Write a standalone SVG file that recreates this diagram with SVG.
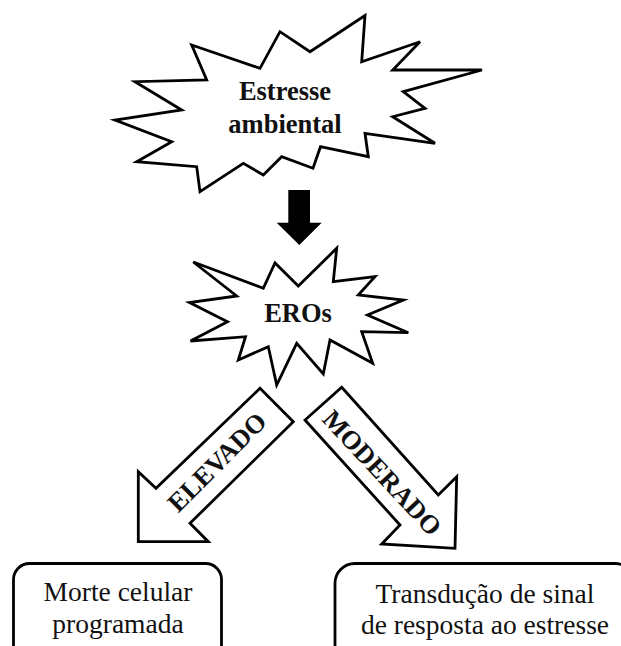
<svg xmlns="http://www.w3.org/2000/svg" width="621" height="646" viewBox="0 0 621 646">
<style>
.shape{fill:#fff;stroke:#000;stroke-width:2.8;stroke-linejoin:miter}
.bold{font-family:"Liberation Serif","Times New Roman",serif;font-weight:bold;font-size:26.5px;fill:#111;text-anchor:middle}
.reg{font-family:"Liberation Serif","Times New Roman",serif;font-size:27.5px;fill:#111;text-anchor:middle}
</style>
<rect width="621" height="646" fill="#fff"/>
<g id="estresse">
<polygon class="shape" points="191.7,45 260,68.3 280,31.7 310,51.7 365,15.5 361.7,61.7 420,41.7 392.7,70 482,70 403.3,91.7 425,108.3 392.7,116.7 435,143.3 365,133.3 368.3,156.7 320.5,146.7 313,168.3 281.7,156.7 263.3,175 243.3,163.3 200,191.7 196.7,166.7 136.7,161.7 171.7,141.7 115,120 181.7,110 135,81.7 206.7,80"/>
<text class="bold" x="285" y="100">Estresse</text>
<text class="bold" x="285" y="132.7">ambiental</text>
</g>
<g id="eros">
<polygon class="shape" points="193.3,262 263.3,288.3 275,263 298.3,286 336.7,248.3 333.3,281.7 375,276.7 358.3,295 403.3,300 367.5,315 408.3,332.7 361.7,331.7 372.7,363.3 330,340 323.3,374 296.7,343.3 276.7,385 268.3,346.7 238.3,360 245.5,336.7 190.5,341 227.5,321.7 189.5,302.5 236.7,296"/>
<text class="bold" x="298" y="321.7">EROs</text>
</g>
<g id="morte">
<rect class="shape" x="13.5" y="563.5" width="208" height="110" rx="16"/>
<text class="reg" x="118" y="601">Morte celular</text>
<text class="reg" x="118" y="633.3">programada</text>
</g>
<g id="transducao">
<rect class="shape" x="335" y="563.5" width="300" height="110" rx="20"/>
<text class="reg" x="485" y="602.5">Transdução de sinal</text>
<text class="reg" x="485" y="634.3">de resposta ao estresse</text>
</g>
<g id="connectors">
<polygon fill="#000" points="288.3,190 310,190 310,222.7 321.7,222.7 299.3,245 276.7,222.7 288.3,222.7"/>
<g id="elevado">
<polygon class="shape" points="260,388.3 293.3,421.7 190,523.3 208.3,541.7 138.3,541.7 138.3,471.7 156,488.3"/>
<text class="bold" transform="translate(216.7,461.7) rotate(-45)" y="9.3">ELEVADO</text>
</g>
<g id="moderado">
<polygon class="shape" points="341.7,387.3 438.3,495 456.7,476.7 455,548.3 381.7,544 400,525 305,420"/>
<text class="bold" transform="translate(382.5,472.5) rotate(47)" y="9.3">MODERADO</text>
</g>
</g>
</svg>
